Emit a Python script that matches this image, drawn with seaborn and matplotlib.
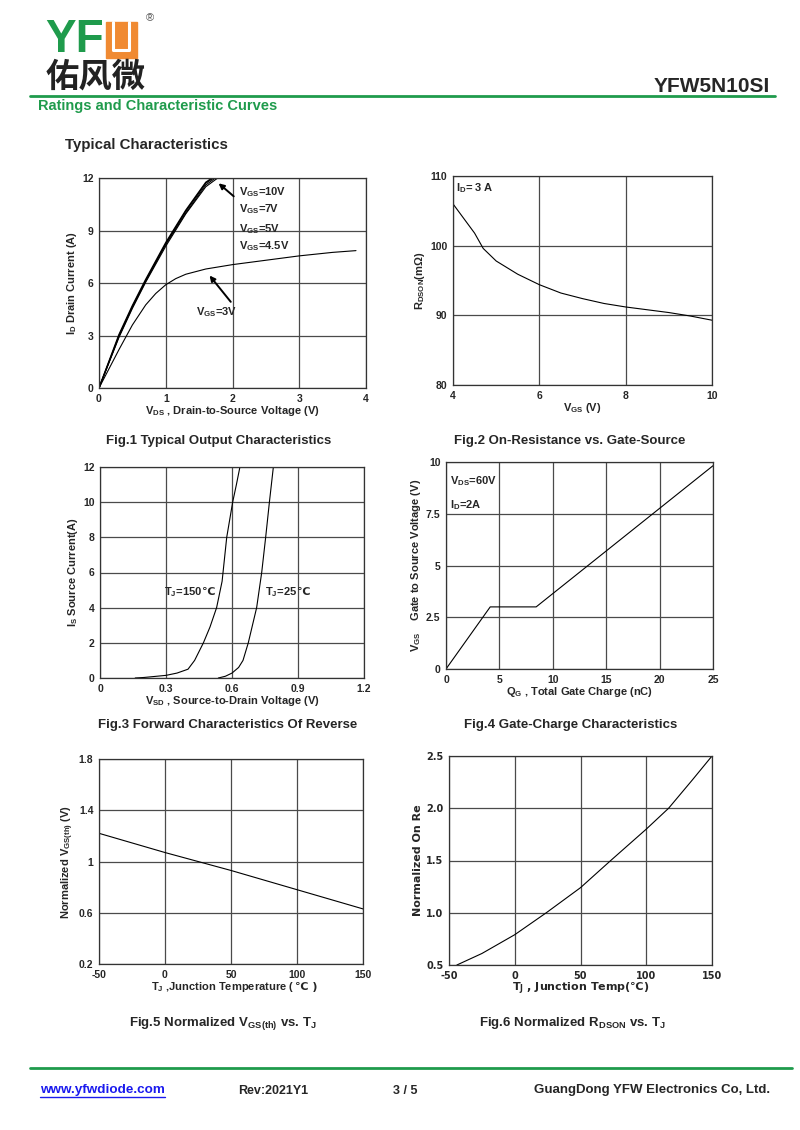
import numpy as np
import pandas as pd
import seaborn as sns
import matplotlib.pyplot as plt
from matplotlib.patches import Rectangle
from matplotlib.lines import Line2D

sns.set_style("white")
plt.rcParams['font.family'] = ['Liberation Sans', 'DejaVu Sans', 'Noto Sans CJK SC']
plt.rcParams['mathtext.default'] = 'regular'

# ---- Fig.1 output characteristics ----
vds_hi = [0, 0.3, 0.5, 0.7, 1.0, 1.3, 1.6, 1.85]
id_10v = [0, 3.05, 4.7, 6.2, 8.3, 10.15, 11.75, 12.4]
id_7v = [0, 3.0, 4.65, 6.15, 8.25, 10.1, 11.7, 12.35]
id_5v = [0, 2.95, 4.6, 6.1, 8.2, 10.0, 11.6, 12.3]
id_45v = [0, 2.9, 4.55, 6.05, 8.1, 9.95, 11.5, 12.2]
vds_3v = [0, 0.3, 0.5, 0.7, 0.85, 1.0, 1.15, 1.3, 1.6, 2.0, 2.5, 3.0, 3.5, 3.85]
id_3v = [0, 2.2, 3.6, 4.75, 5.4, 5.9, 6.25, 6.5, 6.8, 7.05, 7.3, 7.55, 7.75, 7.85]
fig1_labels = ["V$_{GS}$=10V", "V$_{GS}$=7V", "V$_{GS}$=5V", "V$_{GS}$=4.5V"]

# ---- Fig.2 on-resistance vs gate-source ----
vgs = [4, 4.5, 4.7, 5, 5.5, 6, 6.5, 7, 7.5, 8, 8.5, 9, 9.5, 10]
rdson = [106, 101.8, 99.6, 97.8, 95.9, 94.4, 93.2, 92.4, 91.7, 91.2, 90.8, 90.4, 89.9, 89.3]

# ---- Fig.3 forward characteristics ----
vsd_150 = [0.16, 0.2, 0.3, 0.35, 0.4, 0.43, 0.47, 0.5, 0.53, 0.555, 0.576, 0.603, 0.62, 0.636]
is_150 = [0.0, 0.03, 0.15, 0.28, 0.5, 1.0, 2.0, 2.9, 4.0, 5.5, 8.0, 10.0, 11.0, 12.0]
vsd_25 = [0.538, 0.57, 0.6, 0.63, 0.65, 0.674, 0.712, 0.735, 0.753, 0.77, 0.788]
is_25 = [0.0, 0.1, 0.28, 0.6, 1.0, 2.0, 4.0, 6.0, 8.0, 10.0, 12.0]

# ---- Fig.4 gate charge ----
qg = [0, 4.14, 8.44, 25]
vgs_qg = [0, 3.0, 3.0, 9.82]

# ---- Fig.5 normalized Vgs(th) ----
tj5 = [-50, 0, 25, 50, 100, 150]
vth_norm = [1.22, 1.07, 1.0, 0.93, 0.78, 0.63]

# ---- Fig.6 normalized Rdson ----
tj6 = [-44, -25, 0, 24, 50, 73, 100, 117, 135, 150]
rds_norm = [0.5, 0.61, 0.79, 1.0, 1.24, 1.5, 1.8, 2.0, 2.27, 2.5]

W, H = 800, 1130
fig = plt.figure(figsize=(8, 11.3), dpi=100)


def add_ax(l, t, r, b):
    return fig.add_axes([l / W, 1 - b / H, (r - l) / W, (b - t) / H])


def ftext(x, y, s, **kw):
    return fig.text(x / W, 1 - y / H, s, **kw)


def style(ax, xlim, ylim, xticks, xlabs, yticks, ylabs, xlabel, ylabel,
          family=None, tsize=7.5, lsize=8):
    ax.set_xlim(xlim)
    ax.set_ylim(ylim)
    ax.set_xticks(xticks)
    ax.set_yticks(yticks)
    fam = family if family else plt.rcParams['font.family']
    ax.set_xticklabels(xlabs, fontweight='bold', fontsize=tsize, family=fam)
    ax.set_yticklabels(ylabs, fontweight='bold', fontsize=tsize, family=fam)
    ax.grid(True, color='#4a4a4a', lw=0.9)
    ax.tick_params(length=0, pad=4)
    for s in ax.spines.values():
        s.set_color('#333333')
        s.set_linewidth(0.9)
    ax.set_xlabel(xlabel, fontsize=lsize, fontweight='bold', labelpad=0, family=fam)
    ax.set_ylabel(ylabel, fontsize=lsize, fontweight='bold', labelpad=2, family=fam)


def celsius_after(ax, artist, s, size=8):
    # degree-celsius sign drawn right after a mathtext label (Liberation lacks it)
    ax.annotate(s, xy=(1, 0.5), xycoords=artist, va='center', ha='left',
                fontsize=size, fontweight='bold', family=['DejaVu Sans'],
                annotation_clip=False)


LW = 0.8

# Fig.1
ax1 = add_ax(99, 178, 366, 388)
for ys, lw in zip([id_10v, id_7v, id_5v, id_45v], [1.1, 0.8, 0.8, 0.8]):
    sns.lineplot(x=vds_hi, y=ys, color='k', lw=lw, ax=ax1)
sns.lineplot(x=vds_3v, y=id_3v, color='k', lw=LW, ax=ax1)
style(ax1, (0, 4), (0, 12), [0, 1, 2, 3, 4], ["0", "1", "2", "3", "4"],
      [0, 3, 6, 9, 12], ["0", "3", "6", "9", "12"],
      "V$_{DS}$ , Drain-to-Source Voltage (V)", "I$_D$ Drain Current (A)")
for lab, yv in zip(fig1_labels, [11.2, 10.25, 9.1, 8.1]):
    ax1.text(2.1, yv, lab, fontsize=8, fontweight='bold', va='center')
ax1.annotate("", xy=(1.76, 11.8), xytext=(2.05, 10.85),
             arrowprops=dict(arrowstyle='-|>', color='k', lw=1.4, mutation_scale=8))
ax1.text(1.76, 4.35, "V$_{GS}$=3V", fontsize=8, fontweight='bold', va='center', ha='center')
ax1.annotate("", xy=(1.63, 6.55), xytext=(2.0, 4.8),
             arrowprops=dict(arrowstyle='-|>', color='k', lw=1.4, mutation_scale=8))

# Fig.2
ax2 = add_ax(453, 176, 712, 385)
sns.lineplot(x=vgs, y=rdson, color='k', lw=LW, ax=ax2)
style(ax2, (4, 10), (80, 110), [4, 6, 8, 10], ["4", "6", "8", "10"],
      [80, 90, 100, 110], ["80", "90", "100", "110"],
      "V$_{GS}$ (V)", "R$_{DSON}$(mΩ)")
ax2.text(4.08, 108.3, "I$_D$= 3 A", fontsize=8, fontweight='bold', va='center')

# Fig.3
ax3 = add_ax(100, 467, 364, 678)
sns.lineplot(x=vsd_150, y=is_150, color='k', lw=LW, ax=ax3)
sns.lineplot(x=vsd_25, y=is_25, color='k', lw=LW, ax=ax3)
style(ax3, (0, 1.2), (0, 12), [0, 0.3, 0.6, 0.9, 1.2], ["0", "0.3", "0.6", "0.9", "1.2"],
      [0, 2, 4, 6, 8, 10, 12], ["0", "2", "4", "6", "8", "10", "12"],
      "V$_{SD}$ , Source-to-Drain Voltage (V)", "I$_S$ Source Current(A)")
t150 = ax3.text(0.29, 4.9, "T$_J$=150", fontsize=8, fontweight='bold', va='center')
celsius_after(ax3, t150, "℃")
t25 = ax3.text(0.75, 4.9, "T$_J$=25", fontsize=8, fontweight='bold', va='center')
celsius_after(ax3, t25, "℃")

# Fig.4
ax4 = add_ax(446, 462, 713, 669)
sns.lineplot(x=qg, y=vgs_qg, color='k', lw=LW, ax=ax4)
style(ax4, (0, 25), (0, 10), [0, 5, 10, 15, 20, 25], ["0", "5", "10", "15", "20", "25"],
      [0, 2.5, 5, 7.5, 10], ["0", "2.5", "5", "7.5", "10"],
      "Q$_G$ , Total Gate Charge (nC)", "V$_{GS}$    Gate to Source Voltage (V)")
ax4.text(0.4, 9.1, "V$_{DS}$=60V", fontsize=8, fontweight='bold', va='center')
ax4.text(0.4, 7.9, "I$_D$=2A", fontsize=8, fontweight='bold', va='center')

# Fig.5
ax5 = add_ax(99, 759, 363, 964)
sns.lineplot(x=tj5, y=vth_norm, color='k', lw=LW, ax=ax5)
style(ax5, (-50, 150), (0.2, 1.8), [-50, 0, 50, 100, 150], ["-50", "0", "50", "100", "150"],
      [0.2, 0.6, 1.0, 1.4, 1.8], ["0.2", "0.6", "1", "1.4", "1.8"],
      "T$_J$ ,Junction Temperature (", "Normalized V$_{GS(th)}$ (V)")
ax5.xaxis.label.set_position((0.47, 0))
celsius_after(ax5, ax5.xaxis.label, "℃ )")

# Fig.6
ax6 = add_ax(449, 756, 712, 965)
sns.lineplot(x=tj6, y=rds_norm, color='k', lw=LW, ax=ax6)
style(ax6, (-50, 150), (0.5, 2.5), [-50, 0, 50, 100, 150], ["-50", "0", "50", "100", "150"],
      [0.5, 1.0, 1.5, 2.0, 2.5], ["0.5", "1.0", "1.5", "2.0", "2.5"],
      "T$_J$ , Junction Temp(℃)", "Normalized On Re",
      family=['DejaVu Sans'], tsize=7, lsize=8)

# captions
cap = dict(fontsize=9.5, fontweight='bold', ha='center', va='center')
ftext(219, 441, "Fig.1 Typical Output Characteristics", **cap)
ftext(570, 441, "Fig.2 On-Resistance vs. Gate-Source", **cap)
ftext(228, 725, "Fig.3 Forward Characteristics Of Reverse", **cap)
ftext(571, 725, "Fig.4 Gate-Charge Characteristics", **cap)
ftext(223, 1023, "Fig.5 Normalized V$_{GS(th)}$ vs. T$_J$", **cap)
ftext(572, 1023, "Fig.6 Normalized R$_{DSON}$ vs. T$_J$", **cap)

# header
green = '#1f9b4c'
ftext(45, 40, "YF", fontsize=33, fontweight='bold', color=green, va='center', ha='left')
fig.patches.append(Rectangle((106 / W, 1 - 58 / H), 31 / W, 36 / H,
                             transform=fig.transFigure, color='#f08a32', zorder=2))
fig.lines.append(Line2D([113 / W, 113 / W, 129 / W, 129 / W],
                        [1 - 22 / H, 1 - 50 / H, 1 - 50 / H, 1 - 22 / H],
                        transform=fig.transFigure, color='white', lw=2.2, zorder=3))
ftext(150, 18, "®", fontsize=8, color='#555555', va='center', ha='center')
ftext(96, 77, "佑风微", fontsize=24, fontweight='bold', color='#222222',
      family=['Noto Sans CJK SC'], va='center', ha='center')
ftext(770, 86, "YFW5N10SI", fontsize=15, fontweight='bold', ha='right', va='center')
fig.lines.append(Line2D([30 / W, 775 / W], [1 - 96 / H, 1 - 96 / H],
                        transform=fig.transFigure, color=green, lw=2))
ftext(38, 106, "Ratings and Characteristic Curves", fontsize=10.5, fontweight='bold',
      color=green, va='center')
ftext(65, 145, "Typical Characteristics", fontsize=10.8, fontweight='bold', va='center')

# footer
fig.lines.append(Line2D([30 / W, 792 / W], [1 - 1068 / H, 1 - 1068 / H],
                        transform=fig.transFigure, color=green, lw=2))
ftext(40, 1090, "www.yfwdiode.com", fontsize=9.7, fontweight='bold', color='#1a1aee', va='center')
fig.lines.append(Line2D([40 / W, 165 / W], [1 - 1097 / H, 1 - 1097 / H],
                        transform=fig.transFigure, color='#1a1aee', lw=1))
ftext(238, 1091, "Rev:2021Y1", fontsize=9, fontweight='bold', va='center')
ftext(393, 1091, "3 / 5", fontsize=9, fontweight='bold', va='center')
ftext(770, 1090, "GuangDong YFW Electronics Co, Ltd.", fontsize=9.5, fontweight='bold',
      ha='right', va='center')

plt.savefig("out.png", dpi=100)
